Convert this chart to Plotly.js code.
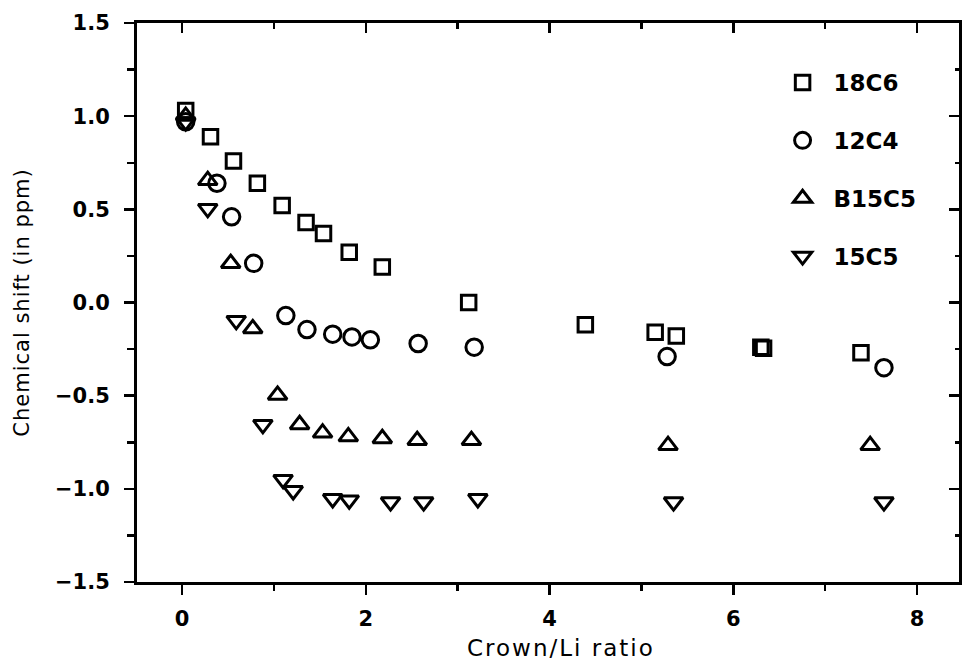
<!DOCTYPE html>
<html>
<head>
<meta charset="utf-8">
<script src="https://cdn.plot.ly/plotly-3.0.1.min.js"></script>
<style>
  html, body { margin: 0; padding: 0; background: #fff; }
  #chart { width: 962px; height: 663px; }
  .ytitle { letter-spacing: 1px; }
</style>
</head>
<body>
<div id="chart"></div>
<script>
// Series names
const seriesNames = ["18C6", "12C4", "B15C5", "15C5"];

// 18C6 (squares)
const x18C6 = [0.04, 0.31, 0.56, 0.82, 1.09, 1.35, 1.54, 1.82, 2.18, 3.12, 4.39, 5.15, 5.38, 6.30, 6.33, 7.39];
const y18C6 = [1.03, 0.89, 0.76, 0.64, 0.52, 0.43, 0.37, 0.27, 0.19, 0.00, -0.12, -0.16, -0.18, -0.24, -0.245, -0.27];

// 12C4 (circles)
const x12C4 = [0.04, 0.38, 0.54, 0.78, 1.13, 1.36, 1.64, 1.85, 2.05, 2.57, 3.18, 5.28, 7.64];
const y12C4 = [0.97, 0.64, 0.46, 0.21, -0.07, -0.145, -0.17, -0.185, -0.20, -0.22, -0.24, -0.29, -0.35];

// B15C5 (up triangles)
const xB15C5 = [0.04, 0.28, 0.53, 0.77, 1.04, 1.28, 1.53, 1.81, 2.18, 2.56, 3.15, 5.29, 7.49];
const yB15C5 = [1.00, 0.655, 0.21, -0.14, -0.497, -0.655, -0.70, -0.72, -0.73, -0.74, -0.74, -0.767, -0.767];

// 15C5 (down triangles)
const x15C5 = [0.04, 0.28, 0.59, 0.88, 1.10, 1.21, 1.64, 1.82, 2.27, 2.63, 3.22, 5.35, 7.64];
const y15C5 = [0.97, 0.504, -0.097, -0.655, -0.95, -1.01, -1.053, -1.06, -1.07, -1.07, -1.053, -1.07, -1.07];

// Axis tick values / titles
const xTickVals = [0, 2, 4, 6, 8];
const yTickVals = [-1.5, -1.0, -0.5, 0.0, 0.5, 1.0, 1.5];
const xTitle = "Crown/Li ratio";
const yTitle = "Chemical shift (in ppm)";

const fontFamily = "DejaVu Sans, Verdana, sans-serif";

function mk(x, y, name, symbol, size) {
  return {
    x: x, y: y, name: name, type: "scatter", mode: "markers",
    legendgroup: name,
    marker: { symbol: symbol, size: size, color: "#000",
              line: { color: "#000", width: 3 } },
    cliponaxis: false
  };
}

const data = [
  mk(x18C6, y18C6, seriesNames[0], "square-open", 14.5),
  mk(x12C4, y12C4, seriesNames[1], "circle-open", 16.5),
  mk(xB15C5, yB15C5, seriesNames[2], "triangle-up-open", 16.5),
  mk(x15C5, y15C5, seriesNames[3], "triangle-down-open", 16.5),
  { x: [], y: [], xaxis: "x2", yaxis: "y2", showlegend: false, type: "scatter", mode: "markers" }
];

const xr = [-0.49, 8.457];
const yr = [-1.5, 1.5];
const tickFont = { family: fontFamily, size: 21, color: "#000", weight: 700 };

const layout = {
  width: 962, height: 663,
  paper_bgcolor: "#fff", plot_bgcolor: "#fff",
  margin: { l: 137, r: 3, t: 23, b: 81, pad: 0 },
  showlegend: true,
  legend: {
    x: 0.772, y: 0.932, xanchor: "left", yanchor: "top",
    font: { family: fontFamily, size: 23, color: "#000", weight: 700 },
    bgcolor: "rgba(0,0,0,0)", borderwidth: 0,
    itemwidth: 52, tracegroupgap: 25
  },
  annotations: [{
    text: xTitle, xref: "paper", yref: "paper",
    x: (561 - 137) / 822, y: -(648 - 582) / 559,
    xanchor: "center", yanchor: "middle", showarrow: false,
    font: { family: fontFamily, size: 23, color: "#000" },
    captureevents: false
  }],
  xaxis: {
    range: xr, showgrid: false, zeroline: false,
    showline: true, linecolor: "#000", linewidth: 3,
    tickmode: "array", tickvals: xTickVals,
    ticks: "outside", ticklen: 10, tickwidth: 2.5, tickcolor: "#000",
    minor: { dtick: 1, tick0: 0, ticks: "outside", ticklen: 6, tickwidth: 2.5, tickcolor: "#000", showgrid: false },
    tickfont: tickFont, ticklabelstandoff: 6,
    automargin: false
  },
  yaxis: {
    range: yr, showgrid: false, zeroline: false,
    showline: true, linecolor: "#000", linewidth: 3,
    tickmode: "array", tickvals: yTickVals, tickformat: ".1f",
    ticks: "outside", ticklen: 10, tickwidth: 2.5, tickcolor: "#000",
    minor: { dtick: 0.25, tick0: 0, ticks: "outside", ticklen: 7, tickwidth: 2.5, tickcolor: "#000", showgrid: false },
    tickfont: tickFont, ticklabelstandoff: 10,
    title: { text: yTitle, font: { family: fontFamily, size: 21, color: "#000" }, standoff: 20 },
    automargin: false
  },
  xaxis2: {
    overlaying: "x", side: "top", anchor: "y2", range: xr,
    showgrid: false, zeroline: false, showline: true, linecolor: "#000", linewidth: 3,
    tickmode: "array", tickvals: xTickVals, showticklabels: false,
    ticks: "inside", ticklen: 10, tickwidth: 2.5, tickcolor: "#000",
    minor: { dtick: 1, tick0: 0, ticks: "inside", ticklen: 6, tickwidth: 2.5, tickcolor: "#000", showgrid: false }
  },
  yaxis2: {
    overlaying: "y", side: "right", anchor: "x2", range: yr,
    showgrid: false, zeroline: false, showline: true, linecolor: "#000", linewidth: 3,
    tickmode: "array", tickvals: yTickVals, showticklabels: false,
    ticks: "inside", ticklen: 10, tickwidth: 2.5, tickcolor: "#000",
    minor: { dtick: 0.25, tick0: 0, ticks: "inside", ticklen: 4, tickwidth: 2.5, tickcolor: "#000", showgrid: false }
  }
};

Plotly.newPlot("chart", data, layout, { displayModeBar: false, staticPlot: true }).then(function () {
  document.querySelectorAll(".annotation-text").forEach(function (t) {
    t.style.letterSpacing = "2px";
  });
});
</script>
</body>
</html>
